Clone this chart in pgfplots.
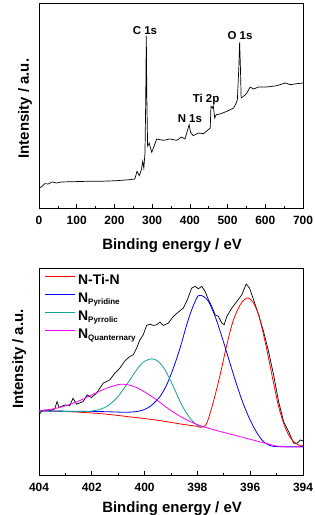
\documentclass[border=0pt]{standalone}
\usepackage{pgfplots}
\pgfplotsset{compat=1.18}
\usepackage{fontspec}
\setmainfont{Liberation Sans}
\definecolor{cteal}{RGB}{20,160,150}
\definecolor{cmag}{RGB}{255,0,255}
\newcommand{\sub}[1]{\raisebox{-1.5bp}{\fontsize{8}{8}\selectfont #1}}
\begin{document}
\begin{tikzpicture}
\useasboundingbox (-39bp,-307bp) rectangle (276bp,208bp);
\pgfplotsset{
  common/.style={
    scale only axis, width=264bp,
    axis line style={black, line width=0.8bp},
    tick style={black, line width=0.6bp},
    tick align=inside, xtick pos=left, ytick=\empty,
    major tick length=4bp, minor tick length=2bp, minor x tick num=1,
    /pgf/number format/assume math mode=true,
    xticklabel style={font=\bfseries\fontsize{12}{12}\selectfont, anchor=base, yshift=-16.5bp},
    xlabel={Binding energy / eV}, ylabel={Intensity / a.u.},
  }
}
% ---------- (a) ----------
\begin{axis}[common, height=205bp,
  xmin=0, xmax=700, ymin=0, ymax=615,
  xtick={0,100,...,700},
  every axis x label/.style={at={(axis description cs:0.504,-0.2)}, anchor=base, font=\bfseries\fontsize{15}{15}\selectfont},
  every axis y label/.style={at={(axis description cs:-0.053,0.485)}, rotate=90, anchor=center, font=\bfseries\fontsize{15}{15}\selectfont},
]
\addplot[black, line width=0.7bp] coordinates {
(0,60)(6,63)(15,73)(24,72)(35,78)(46,75)(59,78)(90,79)(126,80)(161,80)(206,82)(241,85)(254,87)
(260,110)(266,97)(272,117)(275,140)(278,120)(281,165)(283,325)(284.5,517)(286,325)(288,185)
(292,195)(299,167)(305,185)(312,207)(330,203)(347,207)(365,203)(378,213)(387,207)(393,230)
(398,250)(402,227)(409,217)(423,225)(436,223)(449,235)(454,240)(456,305)(460,300)(462,307)
(466,270)(470,280)(480,282)(498,290)(516,300)(523,315)(526,325)(530,425)(532,497)(534,425)
(536,330)(542,335)(551,345)(560,363)(569,357)(582,363)(604,363)(631,367)(653,375)(666,370)
(684,373)(700,375)};
\node[font=\bfseries\fontsize{11.5}{11.5}\selectfont, anchor=base] at (axis cs:281,520) {C 1s};
\node[font=\bfseries\fontsize{11.5}{11.5}\selectfont, anchor=base] at (axis cs:533,505) {O 1s};
\node[font=\bfseries\fontsize{11.5}{11.5}\selectfont, anchor=base] at (axis cs:443,317) {Ti 2p};
\node[font=\bfseries\fontsize{11.5}{11.5}\selectfont, anchor=base] at (axis cs:400,257) {N 1s};
\node[font=\bfseries\fontsize{16}{16}\selectfont, anchor=west, inner sep=0pt] at (axis description cs:-0.148,0.961) {(a)};
\end{axis}
% ---------- (b) ----------
\begin{axis}[common, at={(0,-267bp)}, height=207bp,
  xmin=394, xmax=404, x dir=reverse, ymin=0, ymax=620,
  xtick={394,396,...,404},
  every axis x label/.style={at={(axis description cs:0.504,-0.179)}, anchor=base, font=\bfseries\fontsize{15}{15}\selectfont},
  every axis y label/.style={at={(axis description cs:-0.075,0.56)}, rotate=90, anchor=center, font=\bfseries\fontsize{15}{15}\selectfont},
  legend style={at={(axis description cs:0.01,0.99)}, anchor=north west, draw=none, fill=none,
    font=\bfseries\fontsize{14}{14}\selectfont, row sep=0bp,
    nodes={inner sep=2.5bp, text height=10bp, text depth=3bp}},
  legend cell align=left,
  legend image code/.code={\draw[#1] (0bp,4.5bp) -- (30bp,4.5bp);},
]
\addplot[black, line width=0.7bp, forget plot] coordinates {
(404,180)(403.911,190)(403.785,195)(403.595,192)(403.405,198)(403.316,220)(403.241,202)(403.025,210)
(402.835,208)(402.709,230)(402.582,212)(402.329,220)(402.177,240)(402.013,232)(401.823,245)(401.570,275)
(401.316,285)(401.127,305)(400.937,320)(400.747,342)(400.557,355)(400.430,360)(400.304,380)(400.177,405)
(400.051,420)(399.924,448)(399.797,452)(399.671,448)(399.544,450)(399.418,458)(399.291,448)(399.101,455)
(398.911,475)(398.722,488)(398.532,500)(398.380,525)(398.215,560)(398.089,565)(397.962,558)(397.835,565)
(397.709,550)(397.582,525)(397.456,505)(397.329,480)(397.203,475)(397.076,455)(396.987,450)(396.886,475)
(396.696,500)(396.506,520)(396.316,540)(396.152,572)(396.025,560)(395.873,525)(395.684,480)(395.494,430)
(395.304,370)(395.114,300)(394.924,220)(394.734,160)(394.544,130)(394.354,95)(394.228,95)(394.101,105)(394,102)};
\addlegendimage{red, line width=0.8bp}
\addlegendentry{N-Ti-N}
\addlegendimage{blue, line width=0.8bp}
\addlegendentry{N\sub{Pyridine}}
\addlegendimage{cteal, line width=0.8bp}
\addlegendentry{N\sub{Pyrrolic}}
\addlegendimage{cmag, line width=0.8bp}
\addlegendentry{N\sub{Quanternary}}
\addplot[red, line width=0.8bp, smooth, forget plot] coordinates {
(404,192)(402.962,190)(401.696,184)(400.430,173)(399.418,163)(398.658,153)(398.025,146)(397.835,143)
(397.646,155)(397.392,220)(397.139,300)(396.886,390)(396.633,465)(396.380,510)(396.190,527)(396.063,530)
(395.873,515)(395.684,480)(395.494,420)(395.304,350)(395.114,275)(394.924,205)(394.734,155)(394.544,120)
(394.354,100)(394.165,90)(394,87)};
\addplot[blue, line width=0.8bp, smooth, forget plot] coordinates {
(404,192)(401.696,190)(400.684,188)(400.177,192)(399.797,205)(399.418,235)(399.165,270)(398.911,320)
(398.658,380)(398.405,450)(398.215,495)(398.025,530)(397.937,538)(397.772,535)(397.582,520)(397.329,475)
(397.076,415)(396.823,350)(396.570,285)(396.316,225)(396.063,175)(395.810,135)(395.557,105)(395.304,90)
(394.987,85)(394,85)};
\addplot[cteal, line width=0.8bp, smooth, forget plot] coordinates {
(404,192)(402.329,190)(401.823,194)(401.443,205)(401.063,230)(400.684,270)(400.304,315)(400.051,338)
(399.734,348)(399.481,340)(399.228,315)(398.911,265)(398.595,210)(398.278,170)(398.025,150)(397.835,143)};
\addplot[cmag, line width=0.8bp, smooth, forget plot] coordinates {
(404,192)(403.468,198)(402.962,208)(402.456,223)(401.949,242)(401.443,260)(401.127,268)(400.911,272)
(400.620,270)(400.304,262)(399.924,245)(399.544,225)(399.165,202)(398.785,182)(398.405,165)(397.899,148)
(397.266,133)(396.633,120)(396.000,107)(395.367,94)(394.861,85)(394,84)};
\node[font=\bfseries\fontsize{16}{16}\selectfont, anchor=west, inner sep=0pt] at (axis description cs:-0.148,0.995) {(b)};
\end{axis}
\end{tikzpicture}
\end{document}
